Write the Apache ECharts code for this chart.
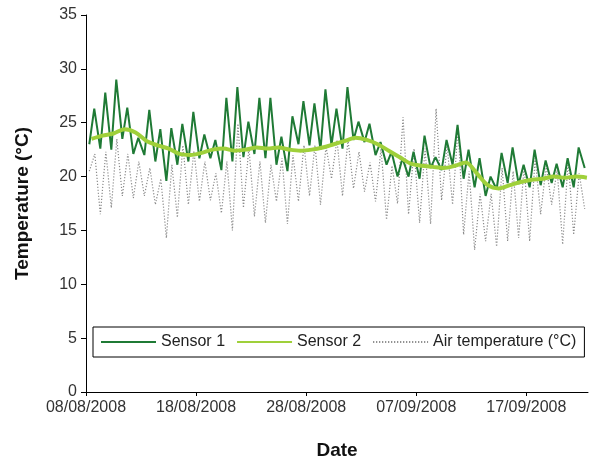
<!DOCTYPE html>
<html>
<head>
<meta charset="utf-8">
<script src="https://cdn.jsdelivr.net/npm/echarts@6/dist/echarts.min.js"></script>
<style>
html,body{margin:0;padding:0;background:#fff;}
#chart{width:589px;height:465px;}
</style>
</head>
<body>
<div id="chart"></div>
<script>
// Days since 08/08/2008 (day index 0..45)
const startDateUTC = Date.UTC(2008, 7, 8);
const xTickDays = [0, 10, 20, 30, 40];
const yTicks = [0, 5, 10, 15, 20, 25, 30, 35];

// Sensor 1: daily minimum (early morning) and maximum (evening)
const sensor1Min = [23.0,22.6,22.5,23.5,22.1,22.0,21.4,19.6,21.1,21.4,
                    21.7,21.7,20.6,21.4,21.8,22.1,21.7,21.1,20.5,23.0,
                    22.9,22.5,22.9,22.6,23.4,23.2,22.0,21.1,20.0,20.0,
                    19.8,20.8,20.6,21.1,19.8,19.0,18.2,18.8,19.4,19.3,
                    19.0,19.2,19.4,19.0,19.0,20.8];
const sensor1Max = [26.3,27.8,29.0,26.4,23.6,26.2,24.4,24.5,24.9,26.0,
                    23.9,23.4,27.3,28.3,25.1,27.3,27.3,23.7,25.6,27.0,
                    26.8,28.1,26.3,28.3,25.1,24.9,23.2,22.3,21.7,22.3,
                    23.8,21.8,23.4,24.8,22.5,21.7,20.0,22.2,22.7,21.1,
                    22.5,21.5,21.2,21.7,22.7];
// Sensor 2: daily value (smooth)
const sensor2Day = [23.5,23.8,24.0,24.4,24.1,23.3,22.9,22.6,22.1,22.0,
                    22.2,22.5,22.6,22.4,22.5,22.7,22.6,22.7,22.5,22.4,
                    22.5,22.7,23.0,23.3,23.6,23.4,23.0,22.4,21.8,21.2,
                    21.0,20.9,20.8,21.0,21.3,20.3,19.2,18.9,19.2,19.5,
                    19.7,19.8,20.0,19.9,20.0,19.9];
// Air temperature: daily minimum and maximum
const airMin = [20.5,16.5,17.1,18.2,18.0,18.2,17.4,14.3,16.2,17.4,
                17.7,17.8,16.6,15.0,17.1,16.3,15.7,17.7,15.6,17.7,
                18.2,17.4,19.8,18.2,18.9,18.6,17.7,16.0,17.5,16.5,
                15.7,15.6,17.8,17.4,14.6,13.2,14.0,13.5,14.0,14.3,
                14.0,16.5,17.4,13.7,14.6,17.0];
const airMax = [22.1,22.3,23.5,22.1,21.4,20.8,19.8,21.1,22.9,22.4,
                21.4,20.3,21.4,24.9,22.7,21.4,21.1,21.7,22.0,22.9,
                22.9,22.8,23.4,23.4,22.3,21.3,22.6,21.0,25.5,22.6,
                22.6,26.3,22.9,24.5,20.5,18.4,18.4,20.8,20.5,21.0,
                21.7,21.0,20.6,21.5,20.3];

function pairs(minArr, maxArr, minOff, maxOff) {
  const out = [];
  for (let d = 0; d < minArr.length; d++) {
    if (minArr[d] != null) out.push([d + minOff, minArr[d]]);
    if (maxArr[d] != null) out.push([d + maxOff, maxArr[d]]);
  }
  return out;
}
const s1Data = pairs(sensor1Min, sensor1Max, 0.3, 0.75);
const airData = pairs(airMin, airMax, 0.3, 0.8);
const s2Data = sensor2Day.map((v, d) => [d + 0.5, v]);

function fmtDate(d) {
  const t = new Date(startDateUTC + Math.round(d) * 86400000);
  const dd = String(t.getUTCDate()).padStart(2, '0');
  const mm = String(t.getUTCMonth() + 1).padStart(2, '0');
  return dd + '/' + mm + '/' + t.getUTCFullYear();
}

const chart = echarts.init(document.getElementById('chart'), null, {renderer: 'canvas'});
const font = 'Liberation Sans, Arial, sans-serif';
chart.setOption({
  animation: false,
  backgroundColor: '#ffffff',
  grid: {left: 86, right: 1, top: 15, bottom: 69, containLabel: false},
  legend: {
    left: 93, top: 327,
    orient: 'horizontal',
    borderColor: '#000', borderWidth: 1,
    padding: [7, 8, 7, 7],
    itemWidth: 55, itemHeight: 16, itemGap: 11,
    itemStyle: {opacity: 0},
    textStyle: {fontFamily: font, fontSize: 16, color: '#222'},
    data: ['Sensor 1', 'Sensor 2', 'Air temperature (°C)']
  },
  xAxis: {
    type: 'value', min: 0, max: 45.6,
    name: 'Date', nameLocation: 'middle', nameGap: 49,
    nameTextStyle: {fontFamily: font, fontSize: 19, fontWeight: 'bold', color: '#111'},
    axisLine: {lineStyle: {color: '#000', width: 1}},
    axisTick: {show: true, inside: false, length: 4, customValues: xTickDays, lineStyle: {color: '#000'}},
    axisLabel: {customValues: xTickDays, formatter: v => fmtDate(v), fontFamily: font, fontSize: 16, color: '#333', margin: 8},
    splitLine: {show: false}
  },
  yAxis: {
    type: 'value', min: 0, max: 35, interval: 5,
    name: 'Temperature (°C)', nameLocation: 'middle', nameGap: 54,
    nameTextStyle: {fontFamily: font, fontSize: 19, fontWeight: 'bold', color: '#111'},
    axisLine: {show: true, lineStyle: {color: '#000', width: 1}},
    axisTick: {show: true, inside: false, length: 5, lineStyle: {color: '#000'}},
    axisLabel: {fontFamily: font, fontSize: 16, color: '#333', margin: 9},
    splitLine: {show: false}
  },
  series: [
    {
      name: 'Sensor 1', type: 'line', data: s1Data, symbol: 'none', z: 3,
      lineStyle: {color: '#1f7a35', width: 2}, itemStyle: {color: '#1f7a35'}
    },
    {
      name: 'Sensor 2', type: 'line', data: s2Data, symbol: 'none', smooth: 0.3, z: 4,
      lineStyle: {color: '#9fd03a', width: 4}, itemStyle: {color: '#9fd03a'}
    },
    {
      name: 'Air temperature (°C)', type: 'line', data: airData, symbol: 'none', z: 2,
      lineStyle: {color: '#8a8a8a', width: 1.2, type: [1.2, 1.8]}, itemStyle: {color: '#8a8a8a'}
    }
  ]
});
</script>
</body>
</html>
